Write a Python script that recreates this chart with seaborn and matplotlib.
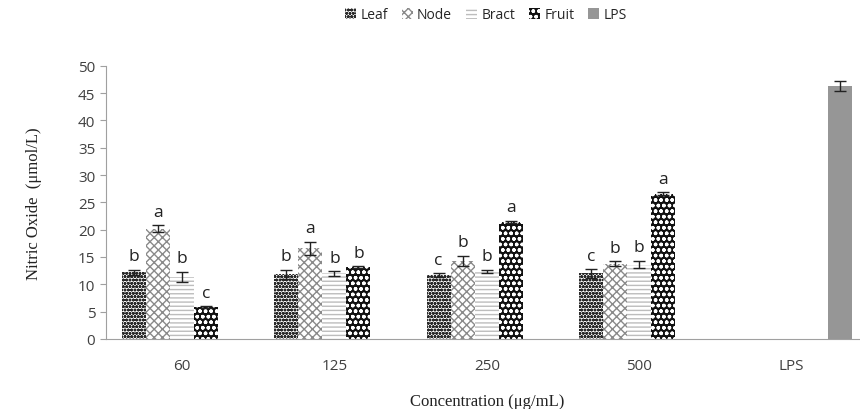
import pandas as pd
import numpy as np
import matplotlib
matplotlib.use("Agg")
import matplotlib.pyplot as plt
from matplotlib.patches import Patch
import seaborn as sns

# data
concentrations = ["60", "125", "250", "500"]
leaf = [12.2, 11.8, 11.7, 12.0]
node = [20.2, 16.6, 14.3, 13.8]
bract = [11.4, 12.0, 12.4, 13.6]
fruit = [5.8, 13.1, 21.4, 26.6]
lps = [46.3]

leaf_err = [0.5, 0.9, 0.3, 0.8]
node_err = [0.6, 1.2, 0.9, 0.4]
bract_err = [0.9, 0.4, 0.3, 0.7]
fruit_err = [0.2, 0.2, 0.2, 0.3]
lps_err = [1.0]

leaf_sig = ["b", "b", "c", "c"]
node_sig = ["a", "a", "b", "b"]
bract_sig = ["b", "b", "b", "b"]
fruit_sig = ["c", "b", "a", "a"]

groups = ["Leaf", "Node", "Bract", "Fruit", "LPS"]
categories = concentrations + ["LPS"]

rows = []
for g, vals, errs, sig in [("Leaf", leaf, leaf_err, leaf_sig),
                           ("Node", node, node_err, node_sig),
                           ("Bract", bract, bract_err, bract_sig),
                           ("Fruit", fruit, fruit_err, fruit_sig)]:
    for c, v, e, s in zip(concentrations, vals, errs, sig):
        rows.append({"conc": c, "group": g, "no": v, "err": e, "sig": s})
rows.append({"conc": "LPS", "group": "LPS", "no": lps[0], "err": lps_err[0], "sig": ""})
df = pd.DataFrame(rows)

# fill, hatch colour, hatch pattern
styles = {
    "Leaf": ("#ffffff", "#2a2a2a", "ooooo"),
    "Node": ("#ffffff", "#8a8a8a", "xxxx"),
    "Bract": ("#ffffff", "#bdbdbd", "----"),
    "Fruit": ("#111111", "#ffffff", "ooo"),
    "LPS": ("#969696", "#969696", ""),
}

sns.set_style("white")
plt.rcParams["hatch.linewidth"] = 1.0

fig = plt.figure(figsize=(8.6, 4.1), dpi=100)
ax = fig.add_axes([0.123, 0.171, 0.886, 0.666])

sns.barplot(data=df, x="conc", y="no", hue="group", order=categories,
            hue_order=groups, width=0.79, errorbar=None, ax=ax, legend=False)

for g, cont in zip(groups, ax.containers):
    face, hc, hatch = styles[g]
    sub = df[df["group"] == g].set_index("conc")
    for bar in cont:
        bar.set_facecolor(face)
        bar.set_edgecolor(hc)
        bar.set_linewidth(0)
        bar.set_hatch(hatch)
        h = bar.get_height()
        if np.isnan(h):
            continue
        xc = bar.get_x() + bar.get_width() / 2
        row = sub[np.isclose(sub["no"], h)].iloc[0]
        ax.errorbar(xc, h, yerr=row["err"], color="#222222", capsize=4,
                    elinewidth=1, capthick=1)
        if row["sig"]:
            ax.text(xc, h + row["err"] + 1.0, row["sig"], ha="center",
                    va="bottom", fontsize=12.5, color="#222222",
                    family="Open Sans")

ax.set_ylim(0, 50)
ax.set_xlim(-0.5, 4.5)
ax.set_yticks(range(0, 51, 5))
ax.set_xticks(range(len(categories)))
ax.set_xticklabels(categories)
ax.set_xticks(np.arange(-0.5, 4.5, 1), minor=True)
ax.tick_params(axis="x", which="major", length=0, pad=14, labelsize=11,
               labelcolor="#404040")
ax.tick_params(axis="x", which="minor", length=5, color="#a0a0a0", direction="out")
ax.tick_params(axis="y", length=4, color="#a0a0a0", left=True, labelsize=11,
               labelcolor="#404040", direction="out")
for lab in ax.get_xticklabels() + ax.get_yticklabels():
    lab.set_family("Open Sans")

sns.despine(ax=ax)
ax.spines["left"].set_color("#a0a0a0")
ax.spines["bottom"].set_color("#a0a0a0")

ax.set_ylabel("Nitric Oxide  (\u03bcmol/L)", family="Liberation Serif",
              fontsize=12, color="#222222", labelpad=26)
ax.set_xlabel("Concentration (\u03bcg/mL)", family="Liberation Serif",
              fontsize=12, color="#222222", labelpad=14)

handles = [Patch(facecolor=styles[g][0], edgecolor=styles[g][1],
                 hatch=styles[g][2], linewidth=0, label=g) for g in groups]
fig.legend(handles=handles, loc="upper center", bbox_to_anchor=(0.565, 1.01),
           ncol=5, frameon=False, handlelength=0.8, handleheight=0.8,
           handletextpad=0.3, columnspacing=1.0,
           prop={"family": "Open Sans", "size": 10})

fig.savefig("out.png", dpi=100)
